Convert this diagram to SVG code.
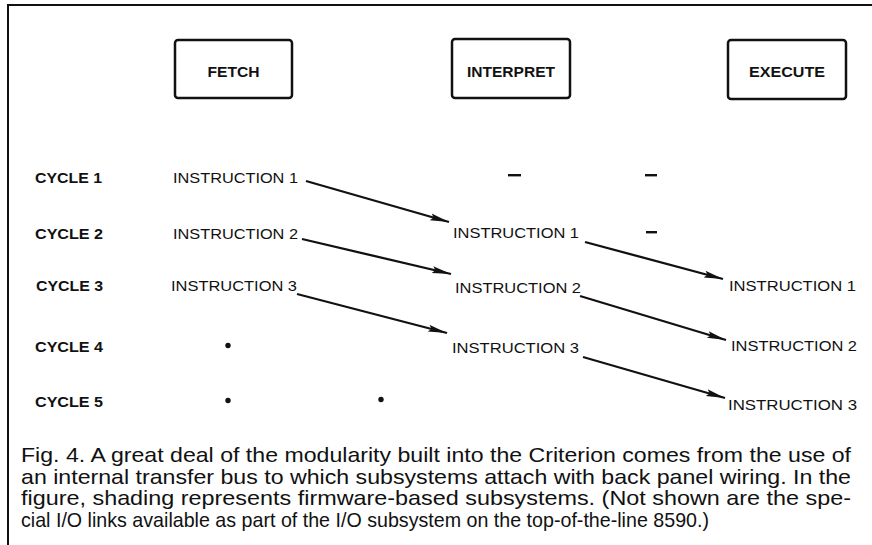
<svg xmlns="http://www.w3.org/2000/svg" width="872" height="545" viewBox="0 0 872 545">
<style>
.box{fill:#fff;stroke:#111;stroke-width:2.5}
.bt{font-family:"Liberation Sans",Arial,sans-serif;font-weight:bold;font-size:14px;fill:#111}
.cy{font-family:"Liberation Sans",Arial,sans-serif;font-weight:bold;font-size:14px;fill:#111}
.in{font-family:"Liberation Sans",Arial,sans-serif;font-size:14px;fill:#111}
.cap{font-family:"Liberation Sans",Arial,sans-serif;font-size:21px;fill:#111}
.arr{stroke:#111;stroke-width:2.3;fill:none;marker-end:url(#ah)}
.frame{stroke:#111;stroke-width:2;fill:none}
.dash{fill:#111}
</style>
<defs>
<marker id="ah" markerUnits="userSpaceOnUse" markerWidth="20" markerHeight="10" refX="19" refY="4" orient="auto">
<path d="M0,0.5 L19,4 L0,7.5 L3,4 z" fill="#111"/>
</marker>
</defs>
<rect width="872" height="545" fill="#fff"/>
<path class="frame" d="M872,5 H8 V545"/>
<g id="fetch"><rect class="box" x="175" y="40" width="117" height="58" rx="3"/><text class="bt" x="233.5" y="77" text-anchor="middle" textLength="52" lengthAdjust="spacingAndGlyphs">FETCH</text></g>
<g id="interpret"><rect class="box" x="452" y="39" width="118" height="59" rx="3"/><text class="bt" x="511" y="77" text-anchor="middle" textLength="88" lengthAdjust="spacingAndGlyphs">INTERPRET</text></g>
<g id="execute"><rect class="box" x="728" y="40" width="118" height="59" rx="3"/><text class="bt" x="787" y="77" text-anchor="middle" textLength="76" lengthAdjust="spacingAndGlyphs">EXECUTE</text></g>
<g id="cycles">
<text class="cy" x="35" y="183" textLength="67" lengthAdjust="spacingAndGlyphs">CYCLE 1</text>
<text class="cy" x="35" y="239" textLength="68" lengthAdjust="spacingAndGlyphs">CYCLE 2</text>
<text class="cy" x="36" y="291" textLength="67" lengthAdjust="spacingAndGlyphs">CYCLE 3</text>
<text class="cy" x="35" y="352" textLength="68" lengthAdjust="spacingAndGlyphs">CYCLE 4</text>
<text class="cy" x="35" y="407" textLength="68" lengthAdjust="spacingAndGlyphs">CYCLE 5</text>
</g>
<g id="fetch-col">
<text class="in" x="173" y="183" textLength="125" lengthAdjust="spacingAndGlyphs">INSTRUCTION 1</text>
<text class="in" x="173" y="239" textLength="125" lengthAdjust="spacingAndGlyphs">INSTRUCTION 2</text>
<text class="in" x="171" y="291" textLength="126" lengthAdjust="spacingAndGlyphs">INSTRUCTION 3</text>
<circle cx="228" cy="345.5" r="2.7" fill="#111"/>
<circle cx="228" cy="400.5" r="2.7" fill="#111"/>
<circle cx="381" cy="399.5" r="2.7" fill="#111"/>
</g>
<g id="interpret-col">
<rect class="dash" x="508" y="174" width="13" height="2.4"/>
<text class="in" x="453" y="238" textLength="126" lengthAdjust="spacingAndGlyphs">INSTRUCTION 1</text>
<text class="in" x="455" y="293" textLength="126" lengthAdjust="spacingAndGlyphs">INSTRUCTION 2</text>
<text class="in" x="452" y="353" textLength="127" lengthAdjust="spacingAndGlyphs">INSTRUCTION 3</text>
</g>
<g id="execute-col">
<rect class="dash" x="645" y="174" width="12" height="2.4"/>
<rect class="dash" x="646" y="231" width="11" height="2.4"/>
<text class="in" x="729" y="291" textLength="127" lengthAdjust="spacingAndGlyphs">INSTRUCTION 1</text>
<text class="in" x="731" y="351" textLength="126" lengthAdjust="spacingAndGlyphs">INSTRUCTION 2</text>
<text class="in" x="728" y="410" textLength="129" lengthAdjust="spacingAndGlyphs">INSTRUCTION 3</text>
</g>
<g id="connectors">
<line class="arr" x1="306" y1="181" x2="449" y2="222"/>
<line class="arr" x1="302" y1="239" x2="451" y2="274"/>
<line class="arr" x1="297" y1="294" x2="447" y2="333"/>
<line class="arr" x1="585" y1="242" x2="723" y2="279"/>
<line class="arr" x1="580" y1="296" x2="726" y2="340"/>
<line class="arr" x1="583" y1="357" x2="725" y2="398"/>
</g>
<g id="caption">
<text class="cap" x="21" y="462" textLength="830" lengthAdjust="spacingAndGlyphs">Fig. 4. A great deal of the modularity built into the Criterion comes from the use of</text>
<text class="cap" x="21" y="483.5" textLength="830" lengthAdjust="spacingAndGlyphs">an internal transfer bus to which subsystems attach with back panel wiring. In the</text>
<text class="cap" x="21" y="505" textLength="830" lengthAdjust="spacingAndGlyphs">figure, shading represents firmware-based subsystems. (Not shown are the spe-</text>
<text class="cap" x="21" y="526.5" textLength="688" lengthAdjust="spacingAndGlyphs">cial I/O links available as part of the I/O subsystem on the top-of-the-line 8590.)</text>
</g>
</svg>
